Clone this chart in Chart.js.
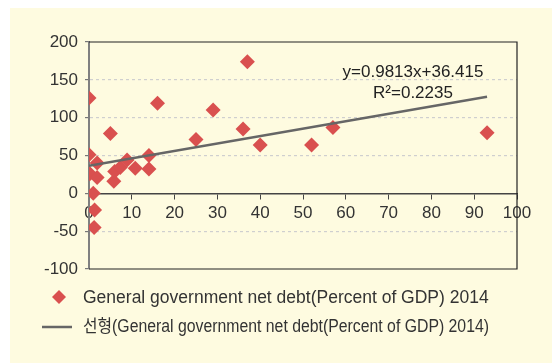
<!DOCTYPE html>
<html>
<head>
<meta charset="utf-8">
<script src="https://cdn.jsdelivr.net/npm/chart.js@4/dist/chart.umd.min.js"></script>
<style>
  html, body { margin: 0; padding: 0; background: #ffffff; }
  #chart { display: block; }
</style>
</head>
<body>
<canvas id="chart" width="552" height="364"></canvas>
<script>
// Net debt (% of GDP) on the x axis, paired values on the y axis
const netDebt = [0, 0, 1.9, 0.2, 1.9, 1, 1.3, 1.2, 5.8, 6, 7.3, 8.9, 10.8, 14, 14, 5, 16, 25, 29, 36, 37, 40, 52, 57, 93];
const yValues = [126, 51, 40, 26, 21, 0, -22, -45, 16, 29, 34, 44, 33, 50, 32, 79, 119, 71, 110, 85, 174, 64, 64, 87, 80];

// Linear trend shown on the chart
const trendSlope = 0.9813;
const trendIntercept = 36.415;
const trendR2 = 0.2235;

const xTicks = [0, 10, 20, 30, 40, 50, 60, 70, 80, 90, 100];
const yTicks = [-100, -50, 0, 50, 100, 150, 200];

const seriesLabel = 'General government net debt(Percent of GDP) 2014';
const trendLabel = '선형(General government net debt(Percent of GDP) 2014)';

const FONT = "'Liberation Sans', 'Noto Sans CJK KR', Arial, sans-serif";
const RED = '#d9504f';
const TREND = '#666666';

const points = netDebt.map((x, i) => ({ x: x, y: yValues[i] }));
const xMin = Math.min(...netDebt), xMax = Math.max(...netDebt);
const trendPoints = [
  { x: xMin, y: trendSlope * xMin + trendIntercept },
  { x: xMax, y: trendSlope * xMax + trendIntercept }
];

const frame = {
  id: 'frame',
  beforeDraw(chart) {
    const ctx = chart.ctx;
    ctx.save();
    ctx.fillStyle = '#fefbe0';
    ctx.fillRect(10, 8, 542, 355);
    ctx.restore();
  },
  beforeDatasetsDraw(chart) {
    const { ctx, chartArea: a } = chart;
    ctx.save();
    ctx.strokeStyle = '#222222';
    ctx.lineWidth = 1.2;
    ctx.beginPath();
    ctx.moveTo(a.left, a.top);
    ctx.lineTo(a.right, a.top);
    ctx.lineTo(a.right, a.bottom);
    ctx.lineTo(a.left, a.bottom);
    ctx.stroke();
    ctx.restore();
  },
  afterDraw(chart) {
    const ctx = chart.ctx;
    const ds = chart.data.datasets;
    ctx.save();
    // trend equation
    ctx.fillStyle = '#222222';
    ctx.font = '17px ' + FONT;
    ctx.textAlign = 'center';
    ctx.textBaseline = 'middle';
    const sign = trendIntercept >= 0 ? '+' : '';
    ctx.fillText('y=' + trendSlope + 'x' + sign + trendIntercept, 413, 72);
    ctx.fillText('R²=' + trendR2, 413, 93);

    // legend
    ctx.textAlign = 'left';
    ctx.font = '17.5px ' + FONT;
    // marker entry
    ctx.fillStyle = RED;
    ctx.beginPath();
    ctx.moveTo(59, 290);
    ctx.lineTo(66, 297);
    ctx.lineTo(59, 304);
    ctx.lineTo(52, 297);
    ctx.closePath();
    ctx.fill();
    ctx.fillStyle = '#333333';
    ctx.fillText(ds[1].label, 83, 298);
    // line entry (narrowed to fit the legend box)
    ctx.strokeStyle = TREND;
    ctx.lineWidth = 2.5;
    ctx.beginPath();
    ctx.moveTo(42, 327);
    ctx.lineTo(72, 327);
    ctx.stroke();
    ctx.fillText(ds[0].label, 83, 327, 406);
    ctx.restore();
  }
};

new Chart(document.getElementById('chart'), {
  type: 'scatter',
  data: {
    datasets: [
      {
        type: 'line',
        label: trendLabel,
        data: trendPoints,
        borderColor: TREND,
        borderWidth: 2.5,
        pointRadius: 0,
        fill: false,
        order: 0
      },
      {
        label: seriesLabel,
        data: points,
        backgroundColor: RED,
        borderColor: RED,
        borderWidth: 0,
        pointStyle: 'rectRot',
        pointRadius: 7.5,
        order: 1
      }
    ]
  },
  options: {
    responsive: false,
    animation: false,
    devicePixelRatio: 1,
    layout: { padding: { left: 0, top: 42, right: 35, bottom: 95 } },
    plugins: { legend: { display: false }, tooltip: { enabled: false } },
    scales: {
      x: {
        type: 'linear',
        position: { y: 0 },
        min: 0,
        max: 100,
        afterBuildTicks(scale) { scale.ticks = xTicks.map(v => ({ value: v })); },
        ticks: { color: '#333333', font: { family: FONT, size: 17 }, padding: 5, maxRotation: 0, autoSkip: false },
        grid: { drawOnChartArea: false, drawTicks: true, tickLength: 5, tickColor: '#444444', tickWidth: 1 },
        border: { display: true, color: '#444444', width: 1.5 }
      },
      y: {
        type: 'linear',
        min: -100,
        max: 200,
        afterBuildTicks(scale) { scale.ticks = yTicks.map(v => ({ value: v })); },
        afterFit(scale) { scale.width = 89; },
        ticks: { color: '#333333', font: { family: FONT, size: 17 }, padding: 7, autoSkip: false },
        grid: {
          color: c => (c.tick && [200, 0, -100].includes(c.tick.value)) ? 'rgba(0,0,0,0)' : '#cfcfcf',
          lineWidth: 1.2,
          tickLength: 4,
          tickColor: '#777777'
        },
        border: { display: true, color: '#808080', width: 2, dash: [3, 3] }
      }
    }
  },
  plugins: [frame]
});
</script>
</body>
</html>
